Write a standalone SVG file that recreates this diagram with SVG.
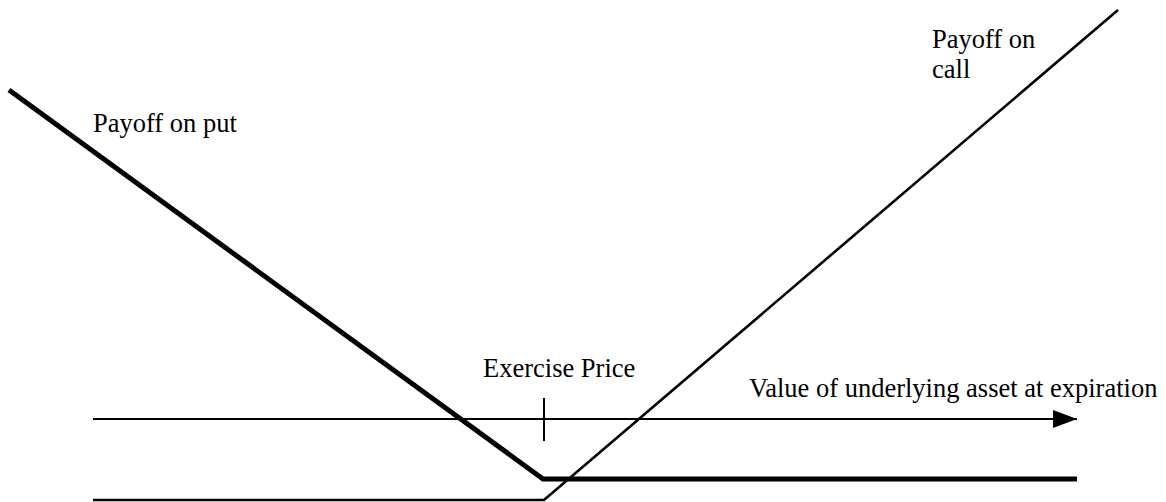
<svg xmlns="http://www.w3.org/2000/svg" width="1166" height="502" viewBox="0 0 1166 502">
<style>
text{font-family:"Liberation Serif","Times New Roman",serif;font-size:26.5px;fill:#000}
.thin{fill:none;stroke:#000;stroke-width:2}
.call{fill:none;stroke:#000;stroke-width:2.6}
.thick{fill:none;stroke:#000;stroke-width:5;stroke-linejoin:miter}
</style>
<defs>
<marker id="arr" markerUnits="userSpaceOnUse" markerWidth="25" markerHeight="18" refX="24" refY="9" orient="auto">
<path d="M0,0 L24,9 L0,18 Z" fill="#000"/>
</marker>
</defs>
<rect width="1166" height="502" fill="#fff"/>
<g id="connectors">
<line class="thin" x1="93" y1="419" x2="1077" y2="419" marker-end="url(#arr)"/>
<line class="thin" x1="544" y1="398" x2="544" y2="441"/>
<polyline class="thick" points="9,90 543,479 1077,479"/>
<polyline class="call" points="93,500 544,500 1118,10"/>
</g>
<g id="put-label"><text x="93" y="132">Payoff on put</text></g>
<g id="call-label"><text x="932" y="48">Payoff on</text><text x="932" y="78">call</text></g>
<g id="exercise-label"><text x="483" y="377">Exercise Price</text></g>
<g id="axis-label"><text x="749" y="397">Value of underlying asset at expiration</text></g>
</svg>
